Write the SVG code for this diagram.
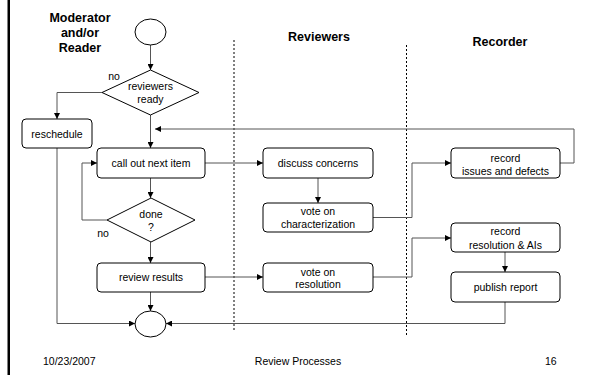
<svg xmlns="http://www.w3.org/2000/svg" width="590" height="375" viewBox="0 0 590 375">
<style>
.box{fill:#fff;stroke:#000;stroke-width:1}
.t{font-family:"Liberation Sans",Arial,sans-serif;font-size:10.5px;fill:#000;text-anchor:middle}
.h{font-family:"Liberation Sans",Arial,sans-serif;font-size:12.5px;font-weight:bold;fill:#000;text-anchor:middle}
.f{font-family:"Liberation Sans",Arial,sans-serif;font-size:10.5px;fill:#000}
.c{fill:none;stroke:#555;stroke-width:1}
.lane{stroke:#000;stroke-width:1;stroke-dasharray:2,2}
</style>
<defs>
<marker id="ah" viewBox="0 0 8 8" refX="8" refY="4" markerWidth="6" markerHeight="6" markerUnits="userSpaceOnUse" orient="auto">
<path d="M0,0 L8,4 L0,8 Z" fill="#000"/>
</marker>
</defs>
<rect x="7.5" y="0" width="2.5" height="375" fill="#000"/>
<g id="headings">
<text class="h" x="80" y="22">Moderator</text>
<text class="h" x="80" y="37">and/or</text>
<text class="h" x="80" y="52">Reader</text>
<text class="h" x="319" y="41">Reviewers</text>
<text class="h" x="500" y="46">Recorder</text>
</g>
<g id="lanes">
<line class="lane" x1="234" y1="40" x2="234" y2="331"/>
<line class="lane" x1="406.5" y1="45" x2="406.5" y2="337"/>
</g>
<g id="connectors">
<line class="c" x1="150.5" y1="45" x2="150.5" y2="70" marker-end="url(#ah)"/>
<polyline class="c" points="102,92.5 57,92.5 57,119" marker-end="url(#ah)"/>
<line class="c" x1="150.5" y1="115" x2="150.5" y2="148" marker-end="url(#ah)"/>
<polyline class="c" points="560,163 574,163 574,129 155,129" marker-end="url(#ah)"/>
<line class="c" x1="205" y1="163" x2="263" y2="163" marker-end="url(#ah)"/>
<line class="c" x1="318" y1="178" x2="318" y2="203" marker-end="url(#ah)"/>
<polyline class="c" points="373,217.5 412,217.5 412,163 451,163" marker-end="url(#ah)"/>
<line class="c" x1="150.5" y1="178" x2="150.5" y2="198" marker-end="url(#ah)"/>
<polyline class="c" points="107,220 82,220 82,163 97,163" marker-end="url(#ah)"/>
<line class="c" x1="150.5" y1="242" x2="150.5" y2="263" marker-end="url(#ah)"/>
<line class="c" x1="205" y1="277" x2="263" y2="277" marker-end="url(#ah)"/>
<polyline class="c" points="373,277 412,277 412,238 451,238" marker-end="url(#ah)"/>
<line class="c" x1="505" y1="252" x2="505" y2="272" marker-end="url(#ah)"/>
<polyline class="c" points="505,302 505,323.5 166,323.5" marker-end="url(#ah)"/>
<line class="c" x1="150.5" y1="292" x2="150.5" y2="311" marker-end="url(#ah)"/>
<polyline class="c" points="57,148 57,323.5 135,323.5" marker-end="url(#ah)"/>
</g>
<g id="start"><ellipse class="box" cx="150.5" cy="32" rx="15.5" ry="13"/></g>
<g id="reviewers-ready">
<polygon class="box" points="150.5,70 199,92.5 150.5,115 102,92.5"/>
<text class="t" x="150.5" y="90">reviewers</text>
<text class="t" x="150.5" y="103">ready</text>
<text class="t" x="114" y="80">no</text>
</g>
<g id="reschedule">
<rect class="box" x="22" y="119" width="70" height="29" rx="4"/>
<text class="t" x="57" y="137.5">reschedule</text>
</g>
<g id="call-out">
<rect class="box" x="97" y="148" width="108" height="30" rx="4"/>
<text class="t" x="151" y="166.5">call out next item</text>
</g>
<g id="discuss">
<rect class="box" x="263" y="148" width="110" height="30" rx="4"/>
<text class="t" x="318" y="166.5">discuss concerns</text>
</g>
<g id="vote-char">
<rect class="box" x="263" y="203" width="110" height="29" rx="4"/>
<text class="t" x="318" y="214.5">vote on</text>
<text class="t" x="318" y="228">characterization</text>
</g>
<g id="record-issues">
<rect class="box" x="451" y="148" width="109" height="30" rx="4"/>
<text class="t" x="505.5" y="161.5">record</text>
<text class="t" x="505.5" y="175">issues and defects</text>
</g>
<g id="done">
<polygon class="box" points="151,198 195,220 151,242 107,220"/>
<text class="t" x="151" y="217.5">done</text>
<text class="t" x="151" y="231">?</text>
<text class="t" x="103" y="237">no</text>
</g>
<g id="review-results">
<rect class="box" x="97" y="263" width="108" height="29" rx="4"/>
<text class="t" x="151" y="281">review results</text>
</g>
<g id="vote-res">
<rect class="box" x="263" y="263" width="110" height="29" rx="4"/>
<text class="t" x="318" y="275.5">vote on</text>
<text class="t" x="318" y="288">resolution</text>
</g>
<g id="record-res">
<rect class="box" x="451" y="223" width="109" height="29" rx="4"/>
<text class="t" x="505.5" y="235">record</text>
<text class="t" x="505.5" y="248.5">resolution &amp; AIs</text>
</g>
<g id="publish">
<rect class="box" x="451" y="272" width="109" height="30" rx="4"/>
<text class="t" x="505.5" y="290.5">publish report</text>
</g>
<g id="end"><ellipse class="box" cx="150.5" cy="324" rx="15.5" ry="13"/></g>
<g id="footer">
<text class="f" x="43" y="365">10/23/2007</text>
<text class="t" x="298" y="365">Review Processes</text>
<text class="f" x="545" y="365">16</text>
</g>
</svg>
